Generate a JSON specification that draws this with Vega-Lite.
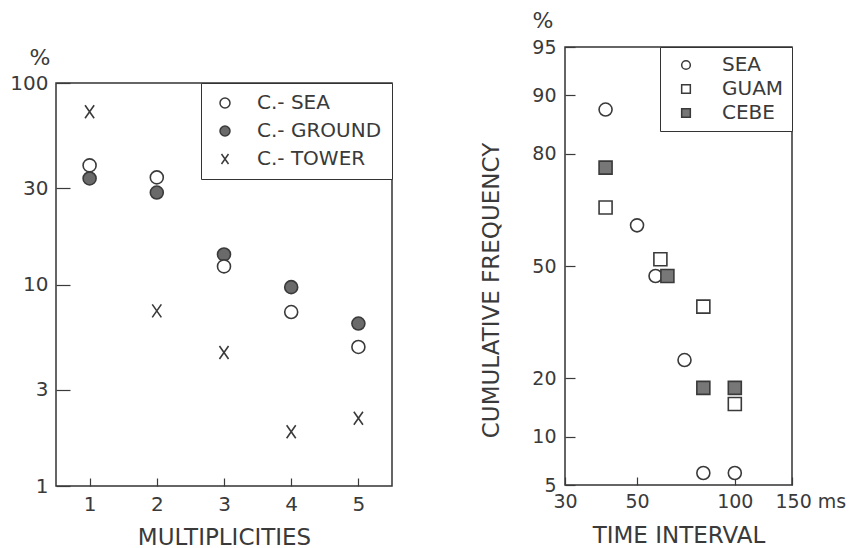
{
  "$schema": "https://vega.github.io/schema/vega-lite/v6.json",
  "padding": {"left": 9, "top": 9, "right": 0, "bottom": 0},
  "background": "white",
  "config": {
    "font": "DejaVu Sans",
    "view": {"stroke": "#333333", "strokeWidth": 1.5},
    "axis": {"labelColor": "#3a3a3a", "titleColor": "#3a3a3a", "tickColor": "#3a3a3a", "tickWidth": 1.2, "domain": false, "grid": false, "labelFlush": false, "labelOverlap": false, "titleFontWeight": "normal"},
    "title": {"color": "#3a3a3a", "fontWeight": "normal"}
  },
  "datasets": {
    "mult": [
      {"mult": 1, "pct": 72, "series": "C.- TOWER"},
      {"mult": 2, "pct": 7.4, "series": "C.- TOWER"},
      {"mult": 3, "pct": 4.6, "series": "C.- TOWER"},
      {"mult": 4, "pct": 1.86, "series": "C.- TOWER"},
      {"mult": 5, "pct": 2.17, "series": "C.- TOWER"},
      {"mult": 1, "pct": 33.6, "series": "C.- GROUND"},
      {"mult": 2, "pct": 28.6, "series": "C.- GROUND"},
      {"mult": 3, "pct": 14.1, "series": "C.- GROUND"},
      {"mult": 4, "pct": 9.7, "series": "C.- GROUND"},
      {"mult": 5, "pct": 6.4, "series": "C.- GROUND"},
      {"mult": 1, "pct": 39, "series": "C.- SEA"},
      {"mult": 2, "pct": 34, "series": "C.- SEA"},
      {"mult": 3, "pct": 12.3, "series": "C.- SEA"},
      {"mult": 4, "pct": 7.3, "series": "C.- SEA"},
      {"mult": 5, "pct": 4.9, "series": "C.- SEA"}
    ],
    "interval": [
      {"time": 40, "pct": 88, "station": "SEA"},
      {"time": 50, "pct": 62, "station": "SEA"},
      {"time": 57, "pct": 47, "station": "SEA"},
      {"time": 70, "pct": 24, "station": "SEA"},
      {"time": 80, "pct": 6, "station": "SEA"},
      {"time": 100, "pct": 6, "station": "SEA"},
      {"time": 40, "pct": 67, "station": "GUAM"},
      {"time": 59, "pct": 52, "station": "GUAM"},
      {"time": 80, "pct": 38, "station": "GUAM"},
      {"time": 100, "pct": 15, "station": "GUAM"},
      {"time": 40, "pct": 77, "station": "CEBE"},
      {"time": 62, "pct": 47, "station": "CEBE"},
      {"time": 80, "pct": 18, "station": "CEBE"},
      {"time": 100, "pct": 18, "station": "CEBE"}
    ]
  },
  "resolve": {"scale": {"shape": "independent", "fill": "independent"}, "legend": {"shape": "independent", "fill": "independent"}},
  "spacing": 85,
  "hconcat": [
    {
      "spacing": -2,
      "resolve": {"scale": {"shape": "independent", "fill": "independent"}, "legend": {"shape": "independent", "fill": "independent"}},
      "vconcat": [
        {
          "width": 50,
          "height": 1,
          "view": {"stroke": null},
          "data": {"values": []},
          "mark": {"type": "point", "opacity": 0},
          "encoding": {}
        },
        {
          "width": 336,
          "height": 403,
          "title": {"text": "%", "anchor": "start", "frame": "group", "align": "center", "dx": -16, "dy": 30, "offset": 16, "baseline": "alphabetic", "fontSize": 22},
          "data": {"name": "mult"},
          "mark": {"type": "point", "size": 169, "strokeWidth": 1.6, "opacity": 1, "stroke": "#3a3a3a"},
          "encoding": {
            "x": {"field": "mult", "type": "quantitative", "scale": {"domain": [0.5, 5.5]},
              "axis": {"values": [1, 2, 3, 4, 5], "format": "d", "title": "MULTIPLICITIES", "titleFontSize": 23, "titlePadding": 12, "labelFontSize": 20, "tickSize": -8, "labelPadding": 16}},
            "y": {"field": "pct", "type": "quantitative", "scale": {"type": "log", "domain": [1, 100]},
              "axis": {"values": [1, 3, 10, 30, 100], "format": "d", "title": null, "labelFontSize": 20, "tickSize": -14, "labelPadding": 22}},
            "shape": {"field": "series", "type": "nominal",
              "scale": {"domain": ["C.- SEA", "C.- GROUND", "C.- TOWER"], "range": ["circle", "circle", "M-0.7,-1L0.7,1M-0.7,1L0.7,-1"]},
              "legend": {"title": null, "orient": "top-right", "offset": 0, "strokeColor": "#333333", "fillColor": "white", "padding": 10, "symbolOffset": 4, "labelFontSize": 20, "labelColor": "#3a3a3a", "symbolSize": 100, "labelOffset": 22, "rowPadding": 8,
                "encode": {"symbols": {"update": {"stroke": {"value": "#3a3a3a"}, "strokeWidth": {"value": 1.5}}}}}},
            "fill": {"field": "series", "type": "nominal",
              "scale": {"domain": ["C.- SEA", "C.- GROUND", "C.- TOWER"], "range": ["#ffffff", "#6a6a6a", "#ffffff"]},
              "legend": {"title": null, "orient": "top-right", "offset": 0, "strokeColor": "#333333", "fillColor": "white", "padding": 10, "symbolOffset": 4, "labelFontSize": 20, "labelColor": "#3a3a3a", "symbolSize": 100, "labelOffset": 22, "rowPadding": 8,
                "encode": {"symbols": {"update": {"stroke": {"value": "#3a3a3a"}, "strokeWidth": {"value": 1.5}}}}}}
          }
        }
      ]
    },
    {
      "width": 227,
      "height": 438,
      "title": {"text": "%", "anchor": "start", "frame": "group", "align": "center", "dx": -22, "dy": 30, "offset": 18, "baseline": "alphabetic", "fontSize": 22},
      "data": {"name": "interval"},
      "transform": [{"calculate": "quantileNormal(datum.pct / 100)", "as": "z"}],
      "mark": {"type": "point", "size": 169, "strokeWidth": 1.6, "opacity": 1, "stroke": "#3a3a3a"},
      "encoding": {
        "x": {"field": "time", "type": "quantitative", "scale": {"type": "log", "domain": [30, 150]},
          "axis": {"values": [30, 50, 100, 150], "labelExpr": "datum.value == 150 ? '150 ms' : datum.label", "title": "TIME INTERVAL", "titleFontSize": 23, "titlePadding": 13, "labelFontSize": 19, "tickSize": -8, "labelPadding": 15,
            "labelAlign": {"condition": {"test": "datum.value == 150", "value": "left"}, "value": "center"},
            "labelOffset": {"condition": {"test": "datum.value == 150", "value": -17}, "value": 0}}},
        "y": {"field": "z", "type": "quantitative", "scale": {"domain": [-1.644854, 1.644854]},
          "axis": {"values": [-1.644854, -1.281552, -0.841621, 0, 0.841621, 1.281552, 1.644854], "labelExpr": "format(cumulativeNormal(datum.value) * 100, '.0f')", "title": "CUMULATIVE FREQUENCY", "titleFontSize": 23, "titleX": -74, "titleY": 243, "titleAlign": "center", "titleBaseline": "middle", "labelFontSize": 19, "tickSize": -10, "labelPadding": 19}},
        "shape": {"field": "station", "type": "nominal",
          "scale": {"domain": ["SEA", "GUAM", "CEBE"], "range": ["circle", "square", "square"]},
          "legend": {"title": null, "orient": "top-right", "offset": 0, "strokeColor": "#333333", "fillColor": "white", "padding": 8, "symbolOffset": 8, "labelFontSize": 20, "labelColor": "#3a3a3a", "symbolSize": 75, "labelOffset": 26, "rowPadding": 4,
            "encode": {"symbols": {"update": {"stroke": {"value": "#3a3a3a"}, "strokeWidth": {"value": 1.4}}}}}},
        "fill": {"field": "station", "type": "nominal",
          "scale": {"domain": ["SEA", "GUAM", "CEBE"], "range": ["#ffffff", "#ffffff", "#777777"]},
          "legend": {"title": null, "orient": "top-right", "offset": 0, "strokeColor": "#333333", "fillColor": "white", "padding": 8, "symbolOffset": 8, "labelFontSize": 20, "labelColor": "#3a3a3a", "symbolSize": 75, "labelOffset": 26, "rowPadding": 4,
            "encode": {"symbols": {"update": {"stroke": {"value": "#3a3a3a"}, "strokeWidth": {"value": 1.4}}}}}}
      }
    }
  ]
}
